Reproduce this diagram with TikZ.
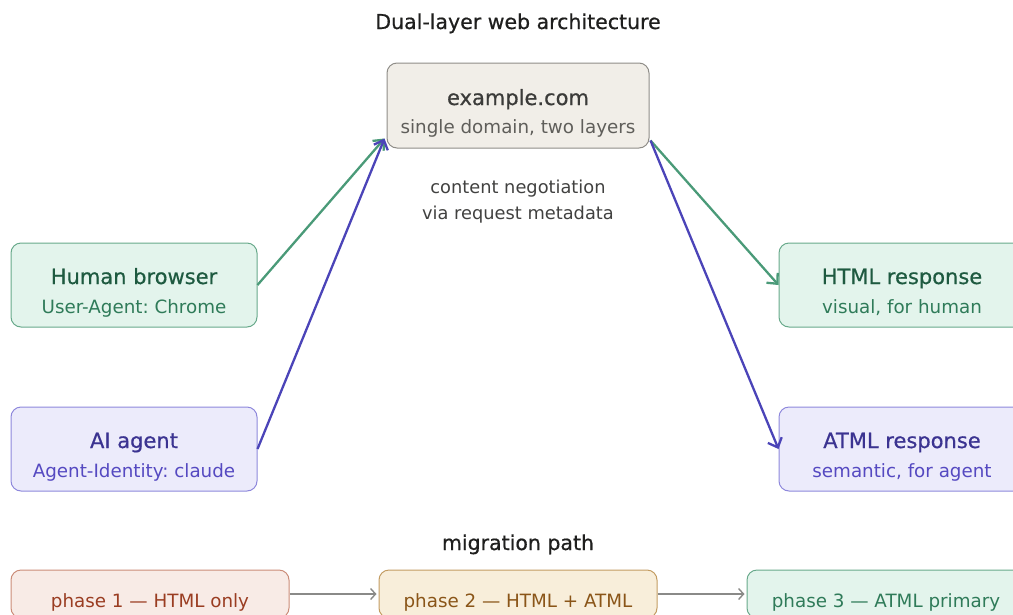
\documentclass[tikz,border=0pt]{standalone}
\usepackage{fontspec}
\setmainfont{DejaVu Sans}
\usepackage{xcolor}
\usepackage{tikz}
\usetikzlibrary{positioning, arrows.meta}
\frenchspacing

\definecolor{siteFill}{HTML}{F1EEE8}
\definecolor{siteLine}{HTML}{8F8D88}
\definecolor{siteText}{HTML}{3B3B39}
\definecolor{siteSub}{HTML}{5F5E5A}
\definecolor{humFill}{HTML}{E3F4EC}
\definecolor{humLine}{HTML}{68A98B}
\definecolor{humText}{HTML}{1E5A40}
\definecolor{humSub}{HTML}{2F7B59}
\definecolor{botFill}{HTML}{ECEBFB}
\definecolor{botLine}{HTML}{8E88DC}
\definecolor{botText}{HTML}{3B3391}
\definecolor{botSub}{HTML}{5549C1}
\definecolor{oneFill}{HTML}{F8EBE6}
\definecolor{oneLine}{HTML}{CB8C78}
\definecolor{oneText}{HTML}{9A3D22}
\definecolor{twoFill}{HTML}{F8EEDA}
\definecolor{twoLine}{HTML}{C39C62}
\definecolor{twoText}{HTML}{8A5518}
\definecolor{greenLink}{HTML}{4A9A78}
\definecolor{purpleLink}{HTML}{4B44B8}
\definecolor{grayLink}{HTML}{8A8A88}
\definecolor{plainText}{HTML}{1F1F1E}

\tikzset{
  card/.style={draw, rounded corners=10pt, line width=1pt, minimum width=246pt,
    minimum height=84pt, inner sep=0pt},
  phasebox/.style={card, minimum width=278pt, minimum height=48pt},
  ttl/.style={anchor=base, font=\fontsize{21}{25}\selectfont\addfontfeatures{FakeBold=0.6}},
  sub/.style={anchor=base, font=\fontsize{18.3}{22}\selectfont},
  heading/.style={anchor=base, text=plainText, font=\fontsize{20.5}{24}\selectfont\addfontfeatures{FakeBold=0.6}},
  note/.style={anchor=base, text=plainText!85, font=\fontsize{17.8}{21}\selectfont},
  link/.style={line width=2.3pt, -{Straight Barb[length=8pt,width=15pt,line width=2.3pt]}},
  flow/.style={line width=1.4pt, grayLink, shorten >=2pt, -{Straight Barb[length=5pt,width=11pt,line width=1.4pt]}},
}

\begin{document}
\begin{tikzpicture}[x=1pt, y=-1pt]
\clip (0,0) rectangle (1013,614);
\useasboundingbox (0,0) rectangle (1013,614);

% headings
\node[heading] (title) at (518,29) {Dual-layer web architecture};
\node[heading] (migration) at (518,550) {migration path};

% domain
\node[card, fill=siteFill, draw=siteLine, minimum width=262pt, minimum height=85pt] (site) at (518,105.5) {};
\node[ttl, text=siteText] (site-t) at (518,105) {example.com};
\node[sub, text=siteSub] (site-s) at (518,133) {single domain, two layers};

\node[note] (nego-a) at (518,193) {content negotiation};
\node[note] (nego-b) at (518,219) {via request metadata};

% clients
\node[card, fill=humFill, draw=humLine] (human) at (134,285) {};
\node[ttl, text=humText] (human-t) at (134,284) {Human browser};
\node[sub, text=humSub] (human-s) at (134,313) {User-Agent: Chrome};

\node[card, fill=botFill, draw=botLine] (agent) at (134,449) {};
\node[ttl, text=botText] (agent-t) at (134,448) {AI agent};
\node[sub, text=botSub] (agent-s) at (134,477) {Agent-Identity: claude};

% responses
\node[card, fill=humFill, draw=humLine] (html) at (902,285) {};
\node[ttl, text=humText] (html-t) at (902,284) {HTML response};
\node[sub, text=humSub] (html-s) at (902,313) {visual, for human};

\node[card, fill=botFill, draw=botLine] (atml) at (902,449) {};
\node[ttl, text=botText] (atml-t) at (902,448) {ATML response};
\node[sub, text=botSub] (atml-s) at (902,477) {semantic, for agent};

% links
\draw[link, greenLink] (human.east) -- ([shift={(-2pt,10pt)}]site.south west);
\draw[link, purpleLink] (agent.east) -- ([shift={(-2pt,10pt)}]site.south west);
\draw[link, greenLink] ([shift={(1pt,8pt)}]site.south east) -- (html.west);
\draw[link, purpleLink] ([shift={(1pt,8pt)}]site.south east) -- (atml.west);

% migration
\node[phasebox, fill=oneFill, draw=oneLine] (phase1) at (150,594) {};
\node[sub, text=oneText] (phase1-t) at (150,607) {phase 1 — HTML only};
\node[phasebox, fill=twoFill, draw=twoLine] (phase2) at (518,594) {};
\node[sub, text=twoText] (phase2-t) at (518,607) {phase 2 — HTML + ATML};
\node[phasebox, fill=humFill, draw=humLine] (phase3) at (886,594) {};
\node[sub, text=humSub] (phase3-t) at (886,607) {phase 3 — ATML primary};

\draw[flow] (phase1.east) -- (phase2.west);
\draw[flow] (phase2.east) -- (phase3.west);
\end{tikzpicture}
\end{document}
